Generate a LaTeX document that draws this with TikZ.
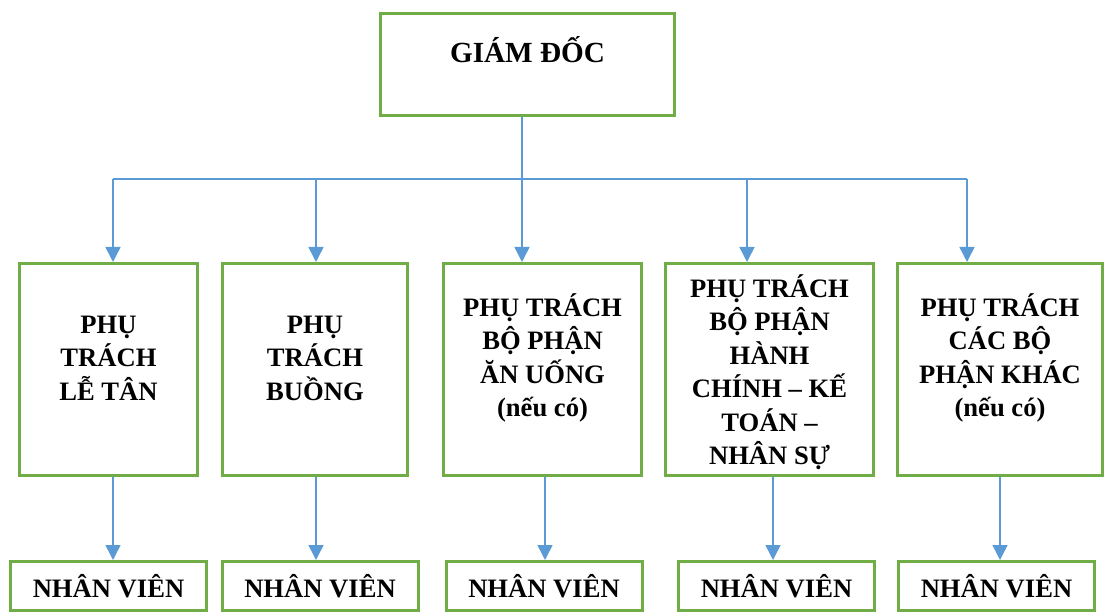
\documentclass[tikz,border=0pt]{standalone}
\usepackage{fontspec}
\setmainfont{Liberation Serif}
\usetikzlibrary{positioning,arrows.meta,calc}
\definecolor{boxgreen}{RGB}{112,173,71}
\definecolor{lineblue}{RGB}{91,155,213}

\begin{document}
\begin{tikzpicture}[x=0.5pt,y=-0.5pt,
    base/.style={draw=boxgreen,line width=1.5pt,inner sep=0pt},
    boss/.style={base,minimum width=147pt,minimum height=51pt},
    M/.style={base,minimum height=106pt},
    staff/.style={base,minimum width=98pt,minimum height=24.5pt,font=\fontsize{13.3}{16}\selectfont\bfseries},
    lbl/.style={align=center,font=\fontsize{13.3}{16.75}\selectfont\bfseries},
    link/.style={draw=lineblue,line width=0.75pt},
    arr/.style={link,-{Triangle[width=7.5pt,length=7.5pt]}},
  ]
  \useasboundingbox (0,0) rectangle (1106,613);

  % Director
  \node[boss] (gd) at (527.5,64.5) {};
  \node[font=\fontsize{14.6}{17}\selectfont\bfseries] (gdt) at (527.5,50) {GIÁM ĐỐC};

  % Heads of department
  \node[M,minimum width=89pt]   (b1) at (108.5,369.5) {};
  \node[M,minimum width=92.5pt] (b2) at (315,369.5) {};
  \node[M,minimum width=99pt]   (b3) at (542.5,369.5) {};
  \node[M,minimum width=104pt]  (b4) at (769.5,369.5) {};
  \node[M,minimum width=102.5pt] (b5) at (1000,369.5) {};

  \node[lbl] (t1) at (108.5,358) {PHỤ\\TRÁCH\\LỄ TÂN};
  \node[lbl] (t2) at (315,358) {PHỤ\\TRÁCH\\BUỒNG};
  \node[lbl] (t3) at (542.5,358) {PHỤ TRÁCH\\BỘ PHẬN\\ĂN UỐNG\\(nếu có)};
  \node[lbl] (t4) at (769.5,372) {PHỤ TRÁCH\\BỘ PHẬN\\HÀNH\\CHÍNH – KẾ\\TOÁN –\\NHÂN SỰ};
  \node[lbl] (t5) at (1000,358) {PHỤ TRÁCH\\CÁC BỘ\\PHẬN KHÁC\\(nếu có)};

  % Staff
  \node[staff] (n1) at (108.5,586) {NHÂN VIÊN};
  \node[staff] (n2) at (320,586) {NHÂN VIÊN};
  \node[staff] (n3) at (544,586) {NHÂN VIÊN};
  \node[staff] (n4) at (776.5,586) {NHÂN VIÊN};
  \node[staff] (n5) at (996.5,586) {NHÂN VIÊN};

  % Bus from the director
  \foreach \x/\i in {113/1, 316/2, 522/3, 747/4, 967/5}
    \coordinate (d\i) at (\x,179);
  \draw[link] (gd.south -| d3) -- (d3);
  \draw[link] (d1) -- (d5);
  \foreach \i in {1,...,5}
    \draw[arr] (d\i) -- (d\i |- b\i.north);

  % Down to staff
  \foreach \i/\dx in {1/2.25pt, 2/0.5pt, 3/1.25pt, 4/1.75pt, 5/0pt}
    \draw[arr] ([xshift=\dx]b\i.south) -- ([xshift=\dx]b\i.south |- n\i.north);
\end{tikzpicture}
\end{document}
